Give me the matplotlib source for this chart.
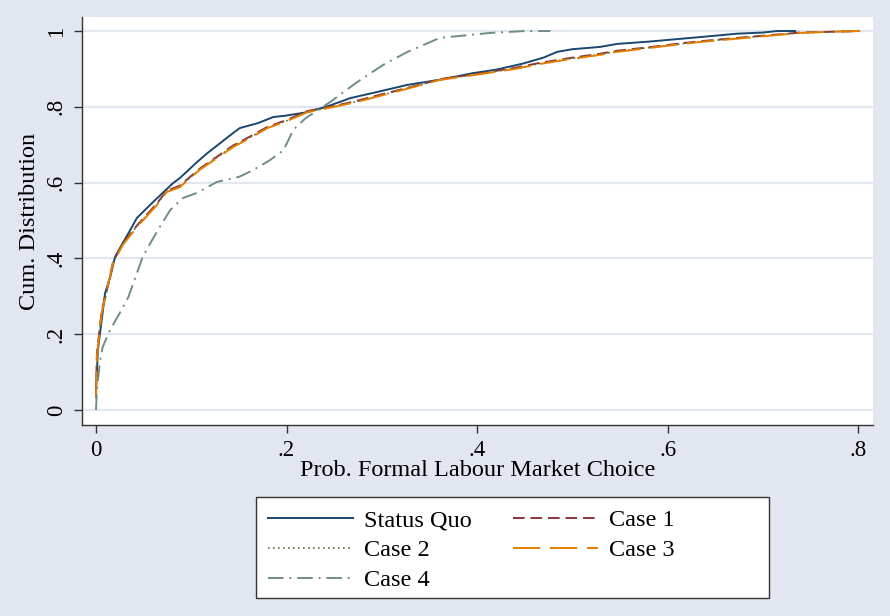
import matplotlib
matplotlib.use("Agg")
import matplotlib.pyplot as plt
from matplotlib.patches import Rectangle

# cumulative distributions
sq_x = [0.000, 0.001, 0.002, 0.006, 0.0095, 0.015, 0.020, 0.028, 0.036, 0.043, 0.060, 0.081, 0.088,
        0.106, 0.117, 0.144, 0.151, 0.170, 0.186, 0.200, 0.222, 0.245, 0.267, 0.300, 0.327, 0.360,
        0.396, 0.420, 0.448, 0.470, 0.484, 0.500, 0.529, 0.547, 0.580, 0.616, 0.634, 0.673, 0.700,
        0.715, 0.734]
sq_y = [0.060, 0.100, 0.158, 0.237, 0.308, 0.351, 0.404, 0.440, 0.475, 0.507, 0.549, 0.599, 0.612,
        0.654, 0.678, 0.731, 0.744, 0.757, 0.773, 0.777, 0.786, 0.803, 0.823, 0.842, 0.858, 0.871,
        0.889, 0.898, 0.914, 0.930, 0.945, 0.952, 0.958, 0.966, 0.972, 0.980, 0.984, 0.993, 0.996,
        1.000, 1.000]

c1_x = [0.000, 0.001, 0.006, 0.012, 0.018, 0.028, 0.043, 0.064, 0.074, 0.088, 0.109, 0.144, 0.162,
        0.180, 0.200, 0.222, 0.250, 0.274, 0.300, 0.330, 0.361, 0.400, 0.440, 0.466, 0.498, 0.529,
        0.547, 0.580, 0.616, 0.634, 0.683, 0.739, 0.770, 0.802]
c1_y = [0.040, 0.150, 0.262, 0.322, 0.392, 0.438, 0.487, 0.545, 0.578, 0.592, 0.637, 0.698, 0.722,
        0.747, 0.765, 0.789, 0.802, 0.816, 0.833, 0.852, 0.873, 0.887, 0.903, 0.916, 0.929, 0.940,
        0.948, 0.957, 0.968, 0.973, 0.984, 0.996, 0.998, 1.000]

c2_x = [0.000, 0.001, 0.006, 0.012, 0.018, 0.028, 0.043, 0.064, 0.074, 0.088, 0.109, 0.144, 0.162,
        0.180, 0.200, 0.222, 0.250, 0.274, 0.300, 0.330, 0.361, 0.400, 0.440, 0.466, 0.498, 0.529,
        0.547, 0.580, 0.616, 0.634, 0.683, 0.739, 0.770, 0.802]
c2_y = [0.035, 0.145, 0.258, 0.319, 0.390, 0.436, 0.485, 0.543, 0.576, 0.590, 0.635, 0.696, 0.720,
        0.745, 0.763, 0.787, 0.801, 0.814, 0.831, 0.851, 0.872, 0.886, 0.901, 0.914, 0.927, 0.938,
        0.946, 0.956, 0.967, 0.972, 0.983, 0.995, 0.998, 1.000]

c3_x = [0.000, 0.001, 0.006, 0.0115, 0.018, 0.028, 0.043, 0.064, 0.074, 0.088, 0.109, 0.144, 0.162,
        0.180, 0.200, 0.222, 0.250, 0.274, 0.300, 0.330, 0.361, 0.400, 0.440, 0.466, 0.498, 0.529,
        0.547, 0.580, 0.616, 0.634, 0.683, 0.739, 0.770, 0.802]
c3_y = [0.030, 0.140, 0.256, 0.317, 0.388, 0.435, 0.483, 0.541, 0.575, 0.588, 0.634, 0.694, 0.718,
        0.744, 0.762, 0.786, 0.800, 0.813, 0.830, 0.850, 0.871, 0.885, 0.900, 0.913, 0.926, 0.937,
        0.945, 0.955, 0.966, 0.971, 0.982, 0.995, 0.998, 1.000]

c4_x = [0.000, 0.001, 0.004, 0.007, 0.0147, 0.025, 0.034, 0.043, 0.049, 0.057, 0.067, 0.078, 0.091,
        0.106, 0.127, 0.150, 0.165, 0.183, 0.197, 0.207, 0.220, 0.246, 0.274, 0.301, 0.327, 0.361,
        0.414, 0.450, 0.477]
c4_y = [0.000, 0.053, 0.124, 0.166, 0.211, 0.256, 0.298, 0.361, 0.404, 0.440, 0.483, 0.528, 0.559,
        0.573, 0.602, 0.615, 0.633, 0.660, 0.686, 0.739, 0.770, 0.813, 0.865, 0.910, 0.945, 0.982,
        0.995, 1.000, 1.000]

ticks = [0, 0.2, 0.4, 0.6, 0.8, 1.0]
tick_labels = ["0", ".2", ".4", ".6", ".8", "1"]

bg = "#E1E6F0"
plt.rcParams["font.family"] = ["Liberation Serif", "DejaVu Serif"]

fig = plt.figure(figsize=(8.9, 6.16), dpi=100, facecolor=bg)
ax = fig.add_axes([0.0921, 0.310, 0.8889, 0.6624])
ax.set_facecolor("white")

ax.plot(sq_x, sq_y, color="#1A476F", lw=1.4, label="Status Quo")
ax.plot(c1_x, c1_y, color="#90353B", lw=1.4, dashes=(6, 3), label="Case 1")
ax.plot(c2_x, c2_y, color="#55752F", lw=1.2, dashes=(1, 2), label="Case 2")
ax.plot(c3_x, c3_y, color="#E37E00", lw=1.4, dashes=(14, 5), label="Case 3")
ax.plot(c4_x, c4_y, color="#6E8E84", lw=1.4, dashes=(8, 3, 1, 3), label="Case 4")

ax.set_xlim(-0.0147, 0.8157)
ax.set_ylim(-0.0396, 1.037)
ax.set_xticks([0, 0.2, 0.4, 0.6, 0.8])
ax.set_xticklabels(tick_labels[:5])
ax.set_yticks(ticks)
ax.set_yticklabels(tick_labels, rotation=90, va="center")
ax.grid(axis="y", color="#E1E6F0", lw=1.6)
ax.set_axisbelow(True)
for s in ["top", "right"]:
    ax.spines[s].set_visible(False)
for s in ["left", "bottom"]:
    ax.spines[s].set_color("#333333")
    ax.spines[s].set_linewidth(1.0)
ax.tick_params(length=6, width=1, color="#333333", labelsize=16.5, pad=5)

ax.set_xlabel("Prob. Formal Labour Market Choice", fontsize=17.5, labelpad=-1)
ax.set_ylabel("Cum. Distribution", fontsize=17.5, labelpad=4)

# legend frame drawn separately so the keys sit on the left like Stata's
box = Rectangle((0.2876, 0.0292), 0.5764, 0.164, transform=fig.transFigure,
                facecolor="white", edgecolor="#333333", lw=1.0, zorder=1)
fig.patches.append(box)

handles, labels = ax.get_legend_handles_labels()
order = [0, 2, 4, 1, 3]
leg = fig.legend([handles[i] for i in order], [labels[i] for i in order],
                 ncol=2, loc="upper left",
                 bbox_to_anchor=(0.2876, 0.1932),
                 bbox_transform=fig.transFigure,
                 fontsize=17.5, frameon=False,
                 handlelength=3.5, handletextpad=0.45, labelspacing=0.33,
                 borderpad=0.3, borderaxespad=0.2, columnspacing=1.7)

fig.savefig("out.png", dpi=100, facecolor=bg)
